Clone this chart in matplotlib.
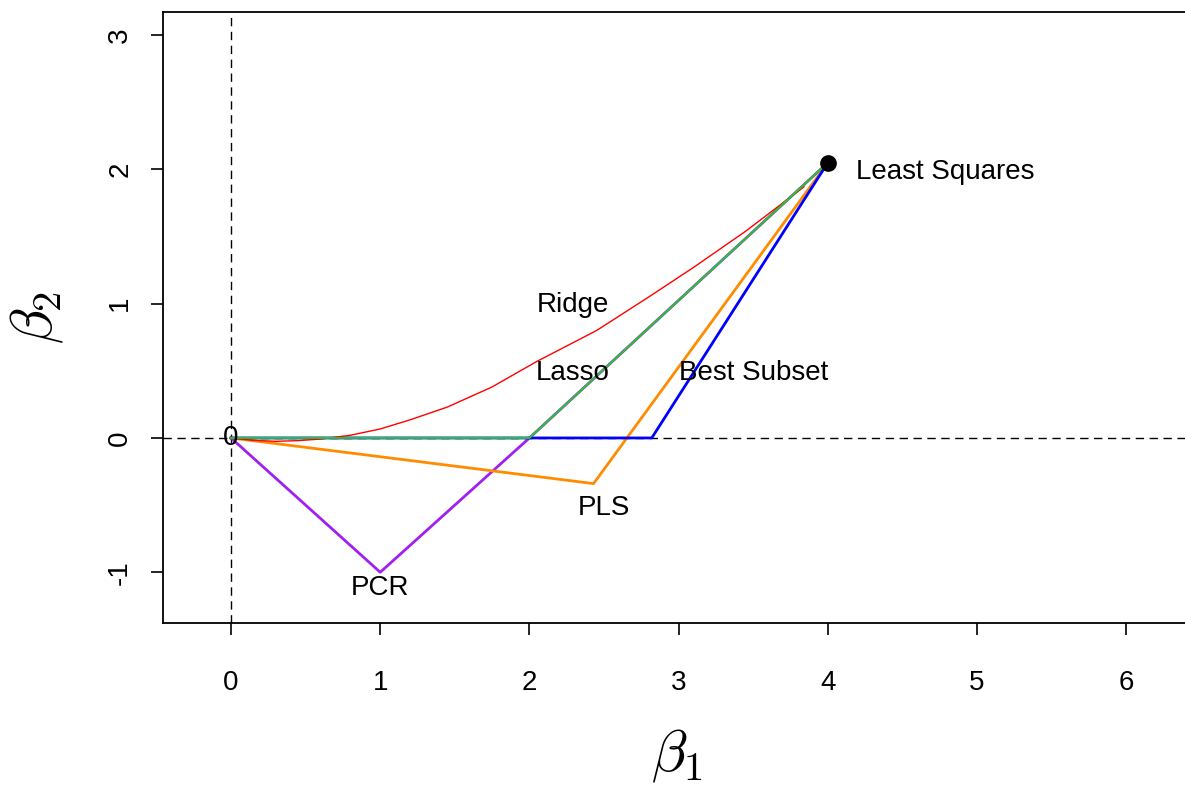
import matplotlib
matplotlib.use("Agg")
import matplotlib.pyplot as plt

plt.rcParams['font.family'] = ['Liberation Sans', 'DejaVu Sans']
plt.rcParams['mathtext.fontset'] = 'cm'
plt.rcParams['axes.unicode_minus'] = False

# least squares solution
ls = (4.0, 2.05)

# ridge path (curve)
ridge_b1 = [0, 0.15, 0.3, 0.45, 0.6, 0.8, 1.0, 1.2, 1.45, 1.75, 2.05, 2.45, 2.8, 3.1, 3.45, 3.84]
ridge_b2 = [0, -0.018, -0.025, -0.02, -0.008, 0.02, 0.067, 0.135, 0.23, 0.38, 0.57, 0.80,
            1.05, 1.27, 1.54, 1.87]

# piecewise paths
lasso_b1 = [0, 2.0, 4.0]
lasso_b2 = [0, 0.0, 2.05]
subset_b1 = [0, 2.82, 4.0]
subset_b2 = [0, 0.0, 2.05]
pcr_b1 = [0, 1.0, 2.0, 4.0]
pcr_b2 = [0, -1.0, 0.0, 2.05]
pls_b1 = [0, 2.43, 4.0]
pls_b2 = [0, -0.34, 2.05]

labels = ["Least Squares", "Ridge", "Lasso", "Best Subset", "PLS", "PCR", "0"]
label_x = [4.79, 2.29, 2.29, 3.5, 2.5, 1.0, 0.0]
label_y = [1.98, 0.99, 0.48, 0.48, -0.52, -1.12, 0.0]

fig = plt.figure(figsize=(11.85, 7.86), dpi=100)
ax = fig.add_axes([163 / 1185, 163 / 786, (1192 - 163) / 1185, 611 / 786])

ax.axvline(0, color='black', lw=1.0, ls=(0, (6, 4)))
ax.axhline(0, color='black', lw=1.0, ls=(0, (6, 4)))

ax.plot(pcr_b1, pcr_b2, color='#A020F0', lw=2)
ax.plot(pls_b1, pls_b2, color='#FF8C00', lw=2)
ax.plot(subset_b1, subset_b2, color='#0000FF', lw=2)
ax.plot(ridge_b1, ridge_b2, color='#FF0000', lw=1)
ax.plot(lasso_b1, lasso_b2, color='#22CC22', lw=1.4)
ax.plot([ls[0]], [ls[1]], 'o', color='black', ms=11)

for t, x, y in zip(labels, label_x, label_y):
    ax.text(x, y, t, ha='center', va='center', fontsize=20)

ax.set_xlim(-0.456, (1192 - 231) / 149.2)
ax.set_ylim(-1.378, 3.172)
ax.set_xticks(range(0, 7))
ax.set_yticks(range(-1, 4))
ax.tick_params(labelsize=20, length=8.5, width=1.2, direction='out')
ax.tick_params(axis='x', pad=25)
ax.tick_params(axis='y', pad=13)
for lab in ax.get_yticklabels():
    lab.set_rotation(90)
    lab.set_va('center')
for s in ax.spines.values():
    s.set_linewidth(1.3)

ax.set_xlabel(r'$\beta_1$', fontsize=42, labelpad=23)
ax.set_ylabel(r'$\beta_2$', fontsize=42, labelpad=30)

fig.savefig('out.png', dpi=100)
